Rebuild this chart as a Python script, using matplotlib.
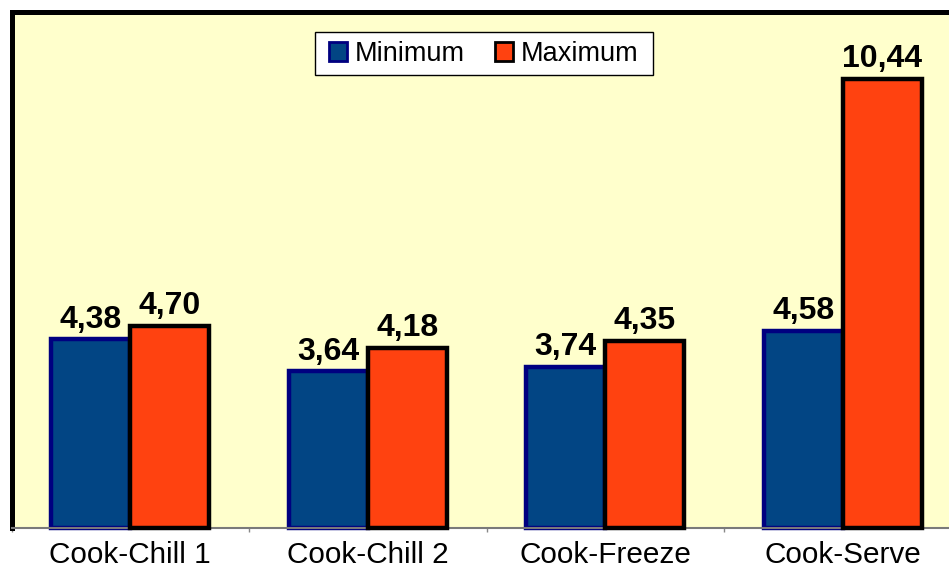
import numpy as np
import matplotlib
matplotlib.use('Agg')
import matplotlib.pyplot as plt
from matplotlib.patches import Patch, Rectangle

# values
categories = ['Cook-Chill 1', 'Cook-Chill 2', 'Cook-Freeze', 'Cook-Serve']
minimum = [4.38, 3.64, 3.74, 4.58]
maximum = [4.70, 4.18, 4.35, 10.44]

min_face = '#024584'
min_edge = '#000080'
max_face = '#FF4210'
max_edge = '#000000'

plt.rcParams['font.family'] = ['Liberation Sans', 'DejaVu Sans']

fig = plt.figure(figsize=(9.49, 5.68), dpi=100)
W, H = 949.0, 568.0
left, top, bottom = 11.5, 11.5, 528.0
ax = fig.add_axes([left / W, (H - bottom) / H, 950.0 / W, (bottom - top) / H])
ax.set_facecolor('#FFFFCC')

x = np.arange(len(categories))
w = 1.0 / 3
b1 = ax.bar(x - w / 2, minimum, w, color=min_face, edgecolor=min_edge,
            linewidth=3.2, zorder=2, clip_on=False)
b2 = ax.bar(x + w / 2, maximum, w, color=max_face, edgecolor=max_edge,
            linewidth=3.2, zorder=3, clip_on=False)

# value labels above bars
for bars, vals in ((b1, minimum), (b2, maximum)):
    for r, v in zip(bars, vals):
        ax.annotate('{:.2f}'.format(v).replace('.', ','),
                    (r.get_x() + r.get_width() / 2, r.get_height()),
                    xytext=(0, 8.5), textcoords='offset points',
                    ha='center', va='baseline', fontsize=23, fontweight='bold',
                    zorder=5)

ax.set_xlim(-0.5, len(categories) - 0.5)
ax.set_ylim(0, 12)
ax.set_yticks([])

ax.set_xticks(x)
ax.set_xticklabels(categories, fontsize=21.4)
ax.tick_params(axis='x', which='major', length=0, pad=9.5)
ax.set_xticks(np.arange(len(categories) + 1) - 0.5, minor=True)
ax.tick_params(axis='x', which='minor', length=3, color='#888888', width=1)

for side in ('left', 'top'):
    ax.spines[side].set_linewidth(3.6)
    ax.spines[side].set_color('black')
ax.spines['right'].set_visible(False)
ax.spines['bottom'].set_color('#7a7a7a')
ax.spines['bottom'].set_linewidth(1.5)

# legend box drawn by hand so the padding can match
ax.add_patch(Rectangle((0.3195, 0.877), 0.3558, 0.0833, transform=ax.transAxes,
                       facecolor='white', edgecolor='black', linewidth=1,
                       zorder=6))
handles = [Patch(facecolor=min_face, edgecolor=min_edge, linewidth=2, label='Minimum'),
           Patch(facecolor=max_face, edgecolor=max_edge, linewidth=2, label='Maximum')]
leg = ax.legend(handles=handles, loc='center', bbox_to_anchor=(0.4968, 0.918),
                ncol=2, fontsize=19.5, frameon=False,
                handlelength=0.68, handleheight=0.68, handletextpad=0.27,
                columnspacing=1.1, borderpad=0.3, borderaxespad=0)
leg.set_zorder(7)

fig.savefig('out.png', dpi=100)
